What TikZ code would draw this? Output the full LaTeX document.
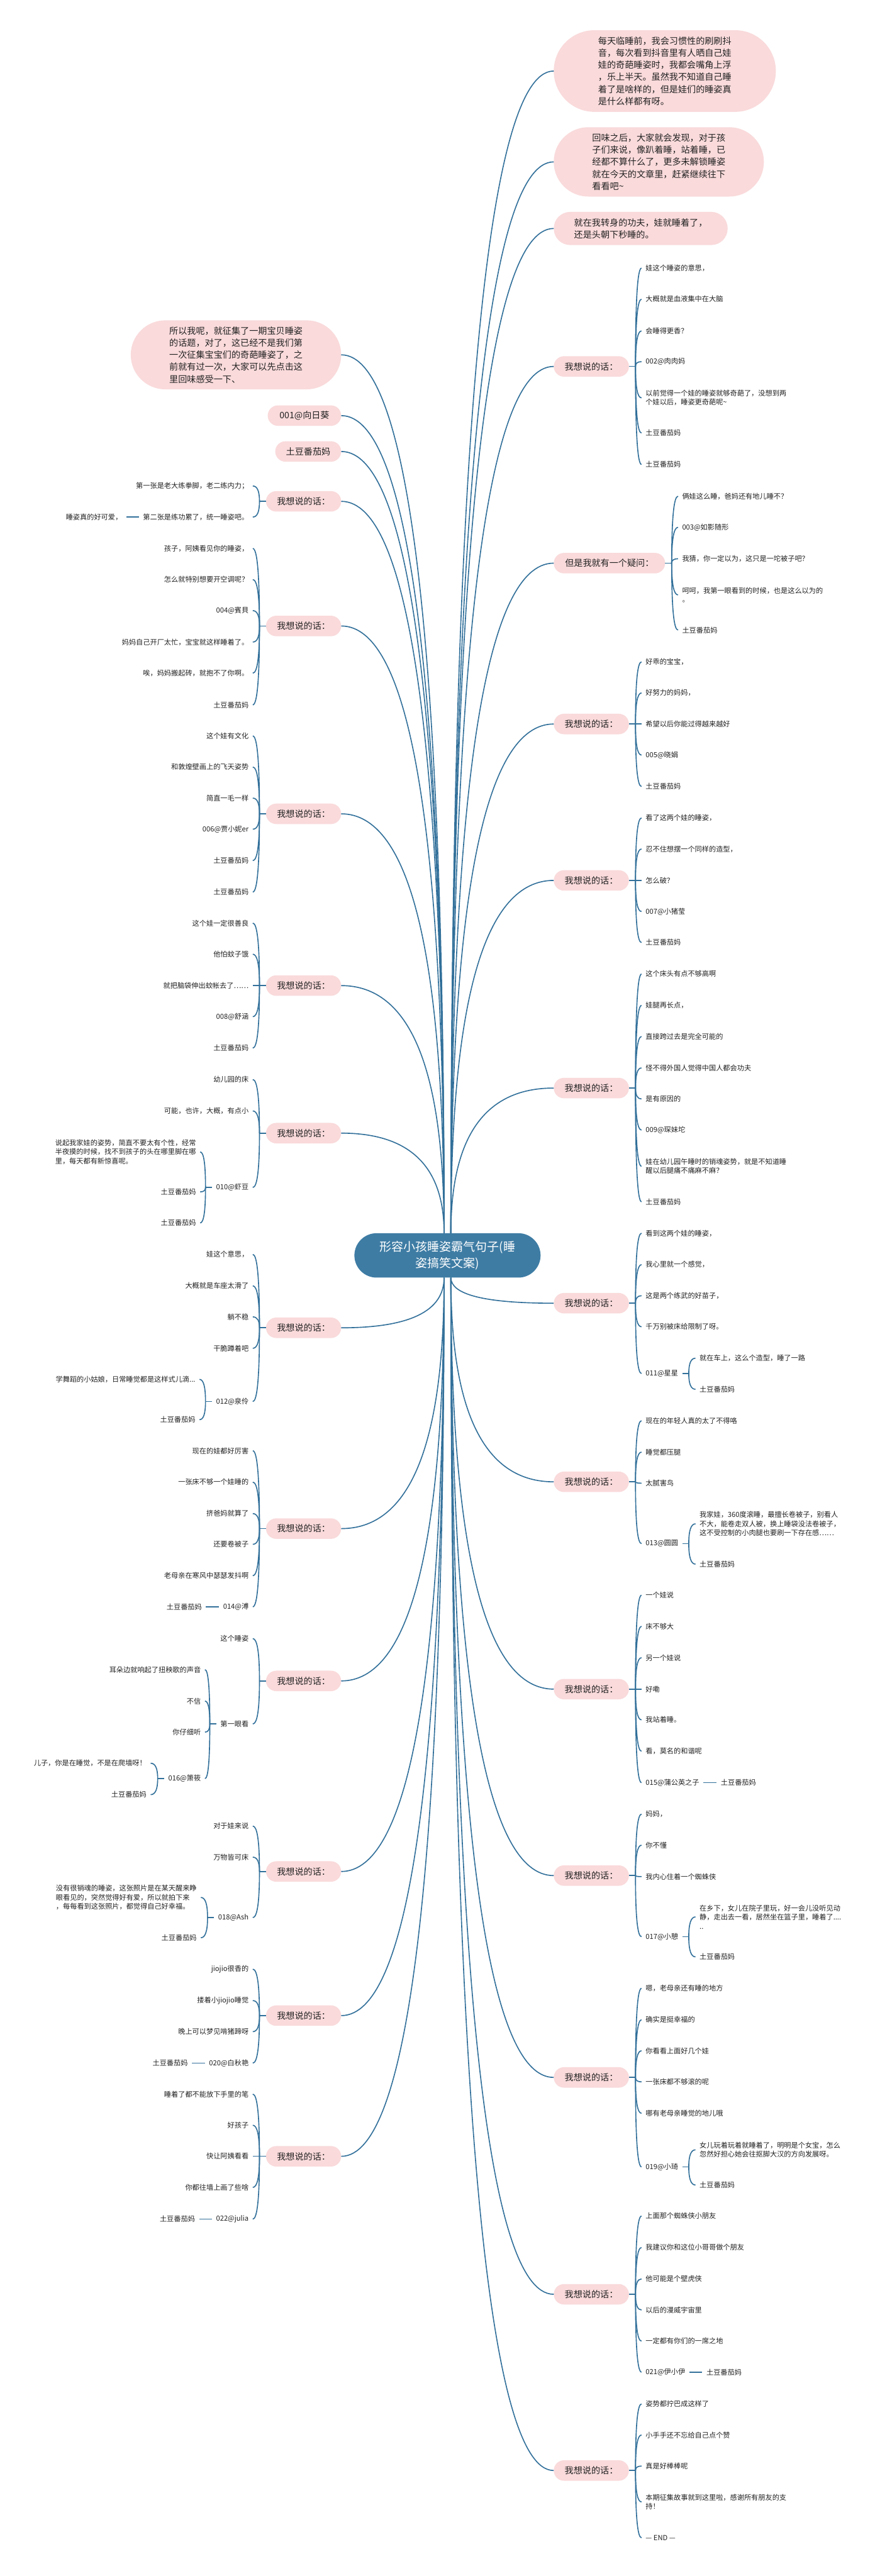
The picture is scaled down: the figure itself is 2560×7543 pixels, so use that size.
\documentclass[tikz,border=0pt]{standalone}
\usepackage{fontspec}
\setmainfont{Noto Sans CJK SC}
\usetikzlibrary{calc}
\definecolor{stemc}{HTML}{32709A}
\definecolor{hubc}{HTML}{3E7CA4}
\definecolor{pinkc}{HTML}{FADADB}
\definecolor{inkc}{HTML}{222222}

\newcommand\twig[2]{\draw[branch] (#1) .. controls ($(#1)!0.667!(#1 |- #2)$) and ($(#2)!0.667!(#1 |- #2)$) .. (#2);}

\begin{document}
\begin{tikzpicture}[x=1pt, y=-1pt,
  branch/.style={stemc, line width=3pt},
  pill/.style={fill=pinkc, rounded corners=30pt, minimum height=60pt, inner sep=0pt, text=inkc, font=\fontsize{26}{35.4}\selectfont},
  bigpill/.style={pill, align=left},
  leaf/.style={inner xsep=12pt, inner ysep=3pt, text=inkc, align=left, font=\fontsize{20.6}{26.5}\selectfont},
  hub/.style={fill=hubc, text=white, rounded corners=65pt, minimum width=545pt, minimum height=130pt, inner sep=0pt, align=center, font=\fontsize{35}{48}\selectfont}]

\fill[white] (0,0) rectangle (2560,7543);
\useasboundingbox (0,0) rectangle (2560,7543);

\node[hub] (ctr) at (1310,3676) {形容小孩睡姿霸气句子(睡\\姿搞笑文案)};
\coordinate (hubNE) at ([xshift=10pt]ctr.north);
\coordinate (hubNW) at ([xshift=-10pt]ctr.north);
\coordinate (hubSE) at ([xshift=10pt]ctr.south);
\coordinate (hubSW) at ([xshift=-10pt]ctr.south);

% right side
\node[bigpill, rounded corners=119pt, minimum width=650pt, minimum height=239pt, anchor=west] (boxa) at (1621,208) {每天临睡前，我会习惯性的刷刷抖\\音，每次看到抖音里有人晒自己娃\\娃的奇葩睡姿时，我都会嘴角上浮\\，乐上半天。虽然我不知道自己睡\\着了是啥样的，但是娃们的睡姿真\\是什么样都有呀。};
\node[bigpill, rounded corners=101pt, minimum width=615pt, minimum height=203pt, anchor=west] (boxb) at (1621,474) {回味之后，大家就会发现，对于孩\\子们来说，像趴着睡，站着睡，已\\经都不算什么了，更多未解锁睡姿\\就在今天的文章里，赶紧继续往下\\看看吧\textasciitilde};
\node[bigpill, rounded corners=48pt, minimum width=509pt, minimum height=97pt, anchor=west] (boxc) at (1621,669) {就在我转身的功夫，娃就睡着了，\\还是头朝下秒睡的。};

\node[pill, minimum width=220pt, anchor=west] (r1) at (1621,1073) {我想说的话：};
\node[leaf, anchor=west] (r1a) at (1878,785) {娃这个睡姿的意思，};
\node[leaf, anchor=west] (r1b) at (1878,876) {大概就是血液集中在大脑};
\node[leaf, anchor=west] (r1c) at (1878,969) {会睡得更香？};
\node[leaf, anchor=west] (r1d) at (1878,1059) {002@肉肉妈};
\node[leaf, anchor=west] (r1e) at (1878,1165) {以前觉得一个娃的睡姿就够奇葩了，没想到两\\个娃以后，睡姿更奇葩呢\textasciitilde};
\node[leaf, anchor=west] (r1f) at (1878,1268) {土豆番茄妈};
\node[leaf, anchor=west] (r1g) at (1878,1360) {土豆番茄妈};

\node[pill, minimum width=326pt, anchor=west] (r2) at (1621,1649) {但是我就有一个疑问：};
\node[leaf, anchor=west] (r2a) at (1985,1453) {俩娃这么睡，爸妈还有地儿睡不？};
\node[leaf, anchor=west] (r2b) at (1985,1544) {003@如影随形};
\node[leaf, anchor=west] (r2c) at (1985,1636) {我猜，你一定以为，这只是一坨被子吧？};
\node[leaf, anchor=west] (r2d) at (1985,1742) {呵呵，我第一眼看到的时候，也是这么以为的\\。};
\node[leaf, anchor=west] (r2e) at (1985,1845) {土豆番茄妈};

\node[pill, minimum width=220pt, anchor=west] (r3) at (1621,2120) {我想说的话：};
\node[leaf, anchor=west] (r3a) at (1878,1938) {好乖的宝宝，};
\node[leaf, anchor=west] (r3b) at (1878,2029) {好努力的妈妈，};
\node[leaf, anchor=west] (r3c) at (1878,2120) {希望以后你能过得越来越好};
\node[leaf, anchor=west] (r3d) at (1878,2211) {005@晓娟};
\node[leaf, anchor=west] (r3e) at (1878,2303) {土豆番茄妈};

\node[pill, minimum width=220pt, anchor=west] (r4) at (1621,2578) {我想说的话：};
\node[leaf, anchor=west] (r4a) at (1878,2395) {看了这两个娃的睡姿，};
\node[leaf, anchor=west] (r4b) at (1878,2486) {忍不住想摆一个同样的造型，};
\node[leaf, anchor=west] (r4c) at (1878,2578) {怎么破？};
\node[leaf, anchor=west] (r4d) at (1878,2669) {007@小猪莹};
\node[leaf, anchor=west] (r4e) at (1878,2760) {土豆番茄妈};

\node[pill, minimum width=220pt, anchor=west] (r5) at (1621,3186) {我想说的话：};
\node[leaf, anchor=west] (r5a) at (1878,2852) {这个床头有点不够高啊};
\node[leaf, anchor=west] (r5b) at (1878,2944) {娃腿再长点，};
\node[leaf, anchor=west] (r5c) at (1878,3035) {直接跨过去是完全可能的};
\node[leaf, anchor=west] (r5d) at (1878,3127) {怪不得外国人觉得中国人都会功夫};
\node[leaf, anchor=west] (r5e) at (1878,3218) {是有原因的};
\node[leaf, anchor=west] (r5f) at (1878,3309) {009@琛妹坨};
\node[leaf, anchor=west] (r5g) at (1878,3415) {娃在幼儿园午睡时的销魂姿势，就是不知道睡\\醒以后腿痛不痛麻不麻？};
\node[leaf, anchor=west] (r5h) at (1878,3519) {土豆番茄妈};

\node[pill, minimum width=220pt, anchor=west] (r6) at (1621,3816) {我想说的话：};
\node[leaf, anchor=west] (r6a) at (1878,3611) {看到这两个娃的睡姿，};
\node[leaf, anchor=west] (r6b) at (1878,3703) {我心里就一个感觉，};
\node[leaf, anchor=west] (r6c) at (1878,3794) {这是两个练武的好苗子，};
\node[leaf, anchor=west] (r6d) at (1878,3885) {千万别被床给限制了呀。};
\node[leaf, anchor=west] (r6e) at (1878,4022) {011@星星};
\node[leaf, anchor=west] (r6e1) at (2036,3977) {就在车上，这么个造型，睡了一路};
\node[leaf, anchor=west] (r6e2) at (2036,4068) {土豆番茄妈};

\node[pill, minimum width=220pt, anchor=west] (r7) at (1621,4339) {我想说的话：};
\node[leaf, anchor=west] (r7a) at (1878,4160) {现在的年轻人真的太了不得咯};
\node[leaf, anchor=west] (r7b) at (1878,4252) {睡觉都压腿};
\node[leaf, anchor=west] (r7c) at (1878,4343) {太腻害鸟};
\node[leaf, anchor=west] (r7d) at (1878,4520) {013@圆圆};
\node[leaf, anchor=west] (r7d1) at (2036,4462) {我家娃，360度滚睡，最擅长卷被子，别看人\\不大，能卷走双人被，换上睡袋没法卷被子，\\这不受控制的小肉腿也要刷一下存在感……};
\node[leaf, anchor=west] (r7d2) at (2036,4580) {土豆番茄妈};

\node[pill, minimum width=220pt, anchor=west] (r8) at (1621,4946) {我想说的话：};
\node[leaf, anchor=west] (r8a) at (1878,4671) {一个娃说};
\node[leaf, anchor=west] (r8b) at (1878,4762) {床不够大};
\node[leaf, anchor=west] (r8c) at (1878,4854) {另一个娃说};
\node[leaf, anchor=west] (r8d) at (1878,4946) {好嘞};
\node[leaf, anchor=west] (r8e) at (1878,5036) {我站着睡。};
\node[leaf, anchor=west] (r8f) at (1878,5128) {看，莫名的和谐呢};
\node[leaf, anchor=west] (r8g) at (1878,5220) {015@蒲公英之子};
\node[leaf, anchor=west] (r8g1) at (2098,5220) {土豆番茄妈};

\node[pill, minimum width=220pt, anchor=west] (r9) at (1621,5492) {我想说的话：};
\node[leaf, anchor=west] (r9a) at (1878,5312) {妈妈，};
\node[leaf, anchor=west] (r9b) at (1878,5403) {你不懂};
\node[leaf, anchor=west] (r9c) at (1878,5495) {我内心住着一个蜘蛛侠};
\node[leaf, anchor=west] (r9d) at (1878,5671) {017@小憩};
\node[leaf, anchor=west] (r9d1) at (2036,5613) {在乡下，女儿在院子里玩，好一会儿没听见动\\静，走出去一看，居然坐在篮子里，睡着了....\\..};
\node[leaf, anchor=west] (r9d2) at (2036,5730) {土豆番茄妈};

\node[pill, minimum width=220pt, anchor=west] (r10) at (1621,6083) {我想说的话：};
\node[leaf, anchor=west] (r10a) at (1878,5822) {嗯，老母亲还有睡的地方};
\node[leaf, anchor=west] (r10b) at (1878,5914) {确实是挺幸福的};
\node[leaf, anchor=west] (r10c) at (1878,6005) {你看看上面好几个娃};
\node[leaf, anchor=west] (r10d) at (1878,6096) {一张床都不够滚的呢};
\node[leaf, anchor=west] (r10e) at (1878,6188) {哪有老母亲睡觉的地儿哦};
\node[leaf, anchor=west] (r10f) at (1878,6345) {019@小琦};
\node[leaf, anchor=west] (r10f1) at (2036,6295) {女儿玩着玩着就睡着了，明明是个女宝，怎么\\忽然好担心她会往抠脚大汉的方向发展呀。};
\node[leaf, anchor=west] (r10f2) at (2036,6398) {土豆番茄妈};

\node[pill, minimum width=220pt, anchor=west] (r11) at (1621,6718) {我想说的话：};
\node[leaf, anchor=west] (r11a) at (1878,6489) {上面那个蜘蛛侠小朋友};
\node[leaf, anchor=west] (r11b) at (1878,6581) {我建议你和这位小哥哥做个朋友};
\node[leaf, anchor=west] (r11c) at (1878,6673) {他可能是个壁虎侠};
\node[leaf, anchor=west] (r11d) at (1878,6764) {以后的漫威宇宙里};
\node[leaf, anchor=west] (r11e) at (1878,6855) {一定都有你们的一席之地};
\node[leaf, anchor=west] (r11f) at (1878,6946) {021@伊小伊};
\node[leaf, anchor=west] (r11f1) at (2056,6946) {土豆番茄妈};

\node[pill, minimum width=220pt, anchor=west] (r12) at (1621,7234) {我想说的话：};
\node[leaf, anchor=west] (r12a) at (1878,7039) {姿势都拧巴成这样了};
\node[leaf, anchor=west] (r12b) at (1878,7130) {小手手还不忘给自己点个赞};
\node[leaf, anchor=west] (r12c) at (1878,7221) {真是好棒棒呢};
\node[leaf, anchor=west] (r12d) at (1878,7326) {本期征集故事就到这里啦，感谢所有朋友的支\\持！};
\node[leaf, anchor=west] (r12e) at (1878,7431) {— END —};

% left side
\node[bigpill, rounded corners=101pt, minimum width=616pt, minimum height=202pt, anchor=east] (l0) at (999,1039) {所以我呢，就征集了一期宝贝睡姿\\的话题，对了，这已经不是我们第\\一次征集宝宝们的奇葩睡姿了，之\\前就有过一次，大家可以先点击这\\里回味感受一下、};
\node[pill, minimum width=215pt, anchor=east] (l1) at (999,1217) {001@向日葵};
\node[pill, minimum width=193pt, anchor=east] (l2) at (999,1322) {土豆番茄妈};

\node[pill, minimum width=220pt, anchor=east] (l3) at (999,1468) {我想说的话：};
\node[leaf, anchor=east] (l3a) at (740,1423) {第一张是老大练拳脚，老二练内力；};
\node[leaf, anchor=east] (l3b) at (740,1514) {第二张是练功累了，统一睡姿吧。};
\node[leaf, anchor=east] (l3b1) at (370,1514) {睡姿真的好可爱，};

\node[pill, minimum width=220pt, anchor=east] (l4) at (999,1833) {我想说的话：};
\node[leaf, anchor=east] (l4a) at (740,1606) {孩子，阿姨看见你的睡姿，};
\node[leaf, anchor=east] (l4b) at (740,1697) {怎么就特别想要开空调呢？};
\node[leaf, anchor=east] (l4c) at (740,1788) {004@賓貝};
\node[leaf, anchor=east] (l4d) at (740,1880) {妈妈自己开厂太忙，宝宝就这样睡着了。};
\node[leaf, anchor=east] (l4e) at (740,1971) {唉，妈妈搬起砖，就抱不了你啊。};
\node[leaf, anchor=east] (l4f) at (740,2064) {土豆番茄妈};

\node[pill, minimum width=220pt, anchor=east] (l5) at (999,2383) {我想说的话：};
\node[leaf, anchor=east] (l5a) at (740,2155) {这个娃有文化};
\node[leaf, anchor=east] (l5b) at (740,2246) {和敦煌壁画上的飞天姿势};
\node[leaf, anchor=east] (l5c) at (740,2337) {简直一毛一样};
\node[leaf, anchor=east] (l5d) at (740,2428) {006@贾小妮er};
\node[leaf, anchor=east] (l5e) at (740,2520) {土豆番茄妈};
\node[leaf, anchor=east] (l5f) at (740,2612) {土豆番茄妈};

\node[pill, minimum width=220pt, anchor=east] (l6) at (999,2886) {我想说的话：};
\node[leaf, anchor=east] (l6a) at (740,2703) {这个娃一定很善良};
\node[leaf, anchor=east] (l6b) at (740,2794) {他怕蚊子饿};
\node[leaf, anchor=east] (l6c) at (740,2886) {就把脑袋伸出蚊帐去了……};
\node[leaf, anchor=east] (l6d) at (740,2977) {008@舒涵};
\node[leaf, anchor=east] (l6e) at (740,3069) {土豆番茄妈};

\node[pill, minimum width=220pt, anchor=east] (l7) at (999,3318) {我想说的话：};
\node[leaf, anchor=east] (l7a) at (740,3161) {幼儿园的床};
\node[leaf, anchor=east] (l7b) at (740,3253) {可能，也许，大概，有点小};
\node[leaf, anchor=east] (l7c) at (740,3477) {010@虾豆};
\node[leaf, anchor=east] (l7c1) at (586,3373) {说起我家娃的姿势，简直不要太有个性，经常\\半夜摸的时候，找不到孩子的头在哪里脚在哪\\里，每天都有新惊喜呢。};
\node[leaf, anchor=east] (l7c2) at (586,3490) {土豆番茄妈};
\node[leaf, anchor=east] (l7c3) at (586,3581) {土豆番茄妈};

\node[pill, minimum width=220pt, anchor=east] (l8) at (999,3888) {我想说的话：};
\node[leaf, anchor=east] (l8a) at (740,3673) {娃这个意思，};
\node[leaf, anchor=east] (l8b) at (740,3765) {大概就是车座太滑了};
\node[leaf, anchor=east] (l8c) at (740,3856) {躺不稳};
\node[leaf, anchor=east] (l8d) at (740,3948) {干脆蹲着吧};
\node[leaf, anchor=east] (l8e) at (740,4104) {012@泉伶};
\node[leaf, anchor=east] (l8e1) at (584,4039) {学舞蹈的小姑娘，日常睡觉都是这样式儿滴...};
\node[leaf, anchor=east] (l8e2) at (584,4157) {土豆番茄妈};

\node[pill, minimum width=220pt, anchor=east] (l9) at (999,4476) {我想说的话：};
\node[leaf, anchor=east] (l9a) at (740,4248) {现在的娃都好厉害};
\node[leaf, anchor=east] (l9b) at (740,4340) {一张床不够一个娃睡的};
\node[leaf, anchor=east] (l9c) at (740,4432) {挤爸妈就算了};
\node[leaf, anchor=east] (l9d) at (740,4522) {还要卷被子};
\node[leaf, anchor=east] (l9e) at (740,4614) {老母亲在寒风中瑟瑟发抖啊};
\node[leaf, anchor=east] (l9f) at (740,4705) {014@溥};
\node[leaf, anchor=east] (l9f1) at (603,4705) {土豆番茄妈};

\node[pill, minimum width=220pt, anchor=east] (l10) at (999,4922) {我想说的话：};
\node[leaf, anchor=east] (l10a) at (740,4798) {这个睡姿};
\node[leaf, anchor=east] (l10b) at (740,5048) {第一眼看};
\node[leaf, anchor=east] (l10b1) at (600,4889) {耳朵边就响起了扭秧歌的声音};
\node[leaf, anchor=east] (l10b2) at (600,4981) {不信};
\node[leaf, anchor=east] (l10b3) at (600,5072) {你仔细听};
\node[leaf, anchor=east] (l10b4) at (600,5208) {016@箫筱};
\node[leaf, anchor=east] (l10b41) at (441,5163) {儿子，你是在睡觉，不是在爬墙呀！};
\node[leaf, anchor=east] (l10b42) at (441,5255) {土豆番茄妈};

\node[pill, minimum width=220pt, anchor=east] (l11) at (999,5480) {我想说的话：};
\node[leaf, anchor=east] (l11a) at (740,5347) {对于娃来说};
\node[leaf, anchor=east] (l11b) at (740,5438) {万物皆可床};
\node[leaf, anchor=east] (l11c) at (740,5615) {018@Ash};
\node[leaf, anchor=east] (l11c1) at (588,5556) {没有很销魂的睡姿，这张照片是在某天醒来睁\\眼看见的，突然觉得好有爱，所以就拍下来\\，每每看到这张照片，都觉得自己好幸福。};
\node[leaf, anchor=east] (l11c2) at (588,5674) {土豆番茄妈};

\node[pill, minimum width=220pt, anchor=east] (l12) at (999,5902) {我想说的话：};
\node[leaf, anchor=east] (l12a) at (740,5766) {jiojio很香的};
\node[leaf, anchor=east] (l12b) at (740,5858) {搂着小jiojio睡觉};
\node[leaf, anchor=east] (l12c) at (740,5949) {晚上可以梦见啃猪蹄呀};
\node[leaf, anchor=east] (l12d) at (740,6041) {020@白秋艳};
\node[leaf, anchor=east] (l12d1) at (562,6041) {土豆番茄妈};

\node[pill, minimum width=220pt, anchor=east] (l13) at (999,6314) {我想说的话：};
\node[leaf, anchor=east] (l13a) at (740,6132) {睡着了都不能放下手里的笔};
\node[leaf, anchor=east] (l13b) at (740,6223) {好孩子};
\node[leaf, anchor=east] (l13c) at (740,6314) {快让阿姨看看};
\node[leaf, anchor=east] (l13d) at (740,6405) {你都往墙上画了些啥};
\node[leaf, anchor=east] (l13e) at (740,6498) {022@julia};
\node[leaf, anchor=east] (l13e1) at (583,6498) {土豆番茄妈};

% boughs from the hub
\foreach \n in {boxa,boxb,boxc,r1,r2,r3,r4,r5} {\twig{hubNE}{\n.west}}
\foreach \n in {r6,r7,r8,r9,r10,r11,r12} {\twig{hubSE}{\n.west}}
\foreach \n in {l0,l1,l2,l3,l4,l5,l6,l7} {\twig{hubNW}{\n.east}}
\foreach \n in {l8,l9,l10,l11,l12,l13} {\twig{hubSW}{\n.east}}

% right braces
\foreach \p/\ks in {r1/{a,b,c,d,e,f,g}, r2/{a,b,c,d,e}, r3/{a,b,c,d,e}, r4/{a,b,c,d,e}, r5/{a,b,c,d,e,f,g,h}, r6/{a,b,c,d,e}, r7/{a,b,c,d}, r8/{a,b,c,d,e,f,g}, r9/{a,b,c,d}, r10/{a,b,c,d,e,f}, r11/{a,b,c,d,e,f}, r12/{a,b,c,d,e}, r6e/{1,2}, r7d/{1,2}, r9d/{1,2}, r10f/{1,2}} {
  \coordinate (\p s) at ([xshift=19pt]\p.east);
  \draw[branch] (\p.east) -- (\p s);
  \foreach \k in \ks {\twig{\p s}{\p\k.west}}
}
\draw[branch] (r8g.east) -- (r8g1.west);
\draw[branch] (r11f.east) -- (r11f1.west);

% left braces
\foreach \p/\ks in {l3/{a,b}, l4/{a,b,c,d,e,f}, l5/{a,b,c,d,e,f}, l6/{a,b,c,d,e}, l7/{a,b,c}, l8/{a,b,c,d,e}, l9/{a,b,c,d,e,f}, l10/{a,b}, l11/{a,b,c}, l12/{a,b,c,d}, l13/{a,b,c,d,e}, l7c/{1,2,3}, l8e/{1,2}, l10b/{1,2,3,4}, l10b4/{1,2}, l11c/{1,2}} {
  \coordinate (\p s) at ([xshift=-19pt]\p.west);
  \draw[branch] (\p.west) -- (\p s);
  \foreach \k in \ks {\twig{\p s}{\p\k.east}}
}
\draw[branch] (l3b.west) -- (l3b1.east);
\draw[branch] (l9f.west) -- (l9f1.east);
\draw[branch] (l12d.west) -- (l12d1.east);
\draw[branch] (l13e.west) -- (l13e1.east);
\end{tikzpicture}
\end{document}
